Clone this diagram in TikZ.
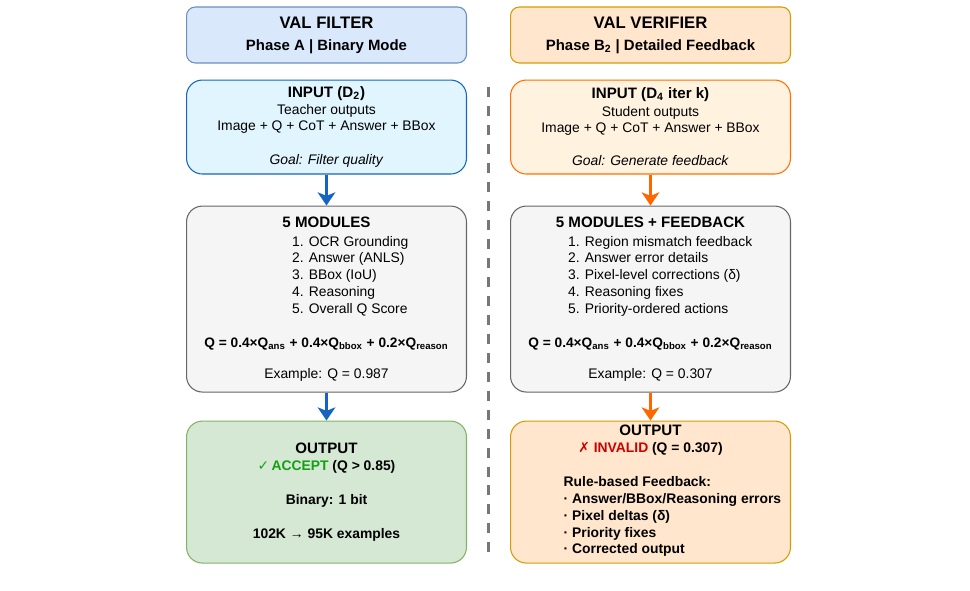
\documentclass[tikz,border=0pt]{standalone}
\usepackage{fontspec}
\setmainfont{Liberation Sans}
\newfontfamily\symfont{DejaVu Sans}
\usetikzlibrary{arrows.meta, positioning}
\definecolor{HeadBlue}{RGB}{218,232,252}
\definecolor{HeadBlueLine}{RGB}{108,142,191}
\definecolor{HeadPeach}{RGB}{255,230,204}
\definecolor{HeadPeachLine}{RGB}{215,155,0}
\definecolor{InBlue}{RGB}{225,245,254}
\definecolor{InBlueLine}{RGB}{21,101,192}
\definecolor{InPeach}{RGB}{255,243,224}
\definecolor{InPeachLine}{RGB}{255,111,0}
\definecolor{ModGray}{RGB}{245,245,245}
\definecolor{ModGrayLine}{RGB}{102,102,102}
\definecolor{OutGreen}{RGB}{213,232,212}
\definecolor{OutGreenLine}{RGB}{130,179,102}
\definecolor{ArrBlue}{RGB}{21,101,192}
\definecolor{ArrOrange}{RGB}{255,102,0}
\definecolor{OkGreen}{RGB}{20,160,20}
\definecolor{BadRed}{RGB}{204,0,0}
\definecolor{SepGray}{RGB}{119,119,119}
\renewcommand{\arraystretch}{1.035}
\newcommand{\headfont}{\fontsize{8.6}{10}\selectfont\bfseries}

\begin{document}
\begin{tikzpicture}[x=0.02cm, y=-0.02cm]

\tikzset{
panel/.style args={#1/#2}{
draw=#2,
fill=#1,
line width=0.6pt,
rounded corners=9pt,
minimum width=5.6cm,
inner sep=0pt,
align=center,
font=\fontsize{7.9}{9.2}\selectfont
},
flow/.style={
line width=1.7pt,
#1,
-{Stealth[length=7.5pt, width=10pt, inset=2pt]}
}
}

\useasboundingbox (0,0) rectangle (970,591);

% left column: filter
\node[panel=HeadBlue/HeadBlueLine, minimum height=1.12cm, rounded corners=5pt] (hdA) at (326.5,35)
{{\fontsize{9.5}{11}\selectfont\bfseries VAL FILTER}\\[3.3pt]
{\fontsize{8.5}{10}\selectfont\bfseries Phase A | Binary Mode}};

\node[panel=InBlue/InBlueLine, minimum height=1.88cm,
below=0.32cm of hdA] (inA)
{{\headfont INPUT (D\textsubscript{2})}\\[0.5pt]
Teacher outputs\\
Image + Q + CoT + Answer + BBox\\[10pt]
\textit{Goal: Filter quality}};

\node[panel=ModGray/ModGrayLine, minimum height=3.72cm,
below=0.62cm of inA] (modA)
{{\headfont 5 MODULES}\\[1.6pt]
\hspace*{27pt}\begin{tabular}[t]{@{}l@{}}
1. OCR Grounding\\
2. Answer (ANLS)\\
3. BBox (IoU)\\
4. Reasoning\\
5. Overall Q Score
\end{tabular}\\[10.3pt]
{\fontsize{7.8}{9.2}\selectfont\bfseries Q = 0.4×Q\textsubscript{ans} + 0.4×Q\textsubscript{bbox} + 0.2×Q\textsubscript{reason}}\\[8.4pt]
Example: Q = 0.987};

\node[panel=OutGreen/OutGreenLine, minimum height=2.84cm,
below=0.56cm of modA, font=\fontsize{7.9}{9.2}\selectfont\bfseries] (outA)
{{\headfont OUTPUT}\\[1pt]
\textcolor{OkGreen}{{\symfont ✓}\,ACCEPT} (Q > 0.85)\\[10.1pt]
Binary: 1 bit\\[10.1pt]
102K → 95K examples};

% right column: verifier
\node[panel=HeadPeach/HeadPeachLine, minimum height=1.12cm, rounded corners=5pt] (hdB) at (650.5,35)
{{\fontsize{9.5}{11}\selectfont\bfseries VAL VERIFIER}\\[3.3pt]
{\fontsize{8.5}{10}\selectfont\bfseries Phase B\textsubscript{2} | Detailed Feedback}};

\node[panel=InPeach/InPeachLine, minimum height=1.88cm,
below=0.32cm of hdB] (inB)
{{\headfont INPUT (D\textsubscript{4} iter k)}\\[0.5pt]
Student outputs\\
Image + Q + CoT + Answer + BBox\\[10pt]
\textit{Goal: Generate feedback}};

\node[panel=ModGray/ModGrayLine, minimum height=3.72cm,
below=0.62cm of inB] (modB)
{{\headfont 5 MODULES + FEEDBACK}\\[1.6pt]
\hspace*{11pt}\begin{tabular}[t]{@{}l@{}}
1. Region mismatch feedback\\
2. Answer error details\\
3. Pixel-level corrections (δ)\\
4. Reasoning fixes\\
5. Priority-ordered actions
\end{tabular}\\[10.3pt]
{\fontsize{7.8}{9.2}\selectfont\bfseries Q = 0.4×Q\textsubscript{ans} + 0.4×Q\textsubscript{bbox} + 0.2×Q\textsubscript{reason}}\\[8.4pt]
Example: Q = 0.307};

\node[panel=HeadPeach/HeadPeachLine, minimum height=2.84cm,
below=0.56cm of modB, font=\fontsize{7.9}{9.2}\selectfont\bfseries] (outB)
{{\headfont OUTPUT}\\[0.5pt]
\textcolor{BadRed}{{\symfont ✗} INVALID} (Q = 0.307)\\[10.1pt]
\hspace*{25pt}\begin{tabular}[t]{@{}l@{}}
Rule-based Feedback:\\
· Answer/BBox/Reasoning errors\\
· Pixel deltas (δ)\\
· Priority fixes\\
· Corrected output
\end{tabular}};

\draw[flow=ArrBlue] (inA) -- (modA);
\draw[flow=ArrBlue] (modA) -- (outA);
\draw[flow=ArrOrange] (inB) -- (modB);
\draw[flow=ArrOrange] (modB) -- (outB);

% divider
\coordinate (sepT) at (488,87);
\coordinate (sepB) at (488,558);
\draw[SepGray, line width=1.7pt, dash pattern=on 5.7pt off 5.1pt] (sepT) -- (sepB);

\end{tikzpicture}
\end{document}
